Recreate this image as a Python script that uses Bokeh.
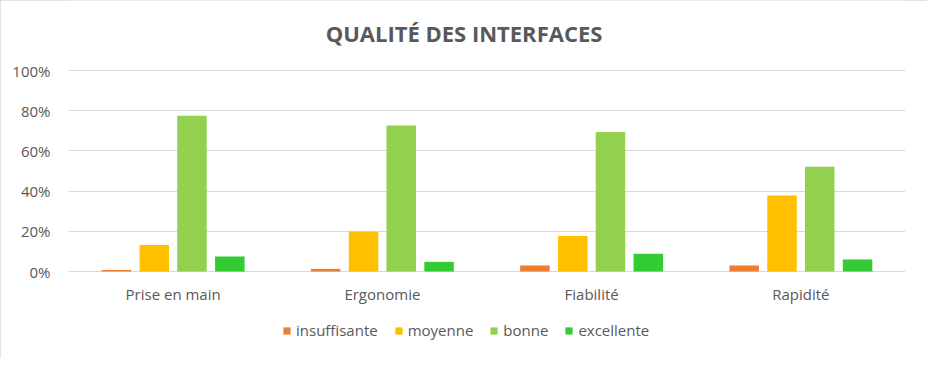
from bokeh.plotting import figure
from bokeh.models import (Range1d, FactorRange, ColumnDataSource, Legend, LegendItem, Label,
                          NumeralTickFormatter, FixedTicker, InlineStyleSheet)
from bokeh.transform import dodge
from bokeh.core.properties import value
from bokeh.embed import file_html
from bokeh.resources import INLINE

title_text = "QUALITÉ DES INTERFACES"
categories = ["Prise en main", "Ergonomie", "Fiabilité", "Rapidité"]
series_names = ["insuffisante", "moyenne", "bonne", "excellente"]
insuffisante = [0.008, 0.013, 0.030, 0.030]
moyenne = [0.132, 0.199, 0.176, 0.378]
bonne = [0.775, 0.726, 0.694, 0.521]
excellente = [0.075, 0.048, 0.088, 0.060]
colors = ["#ED7D31", "#FFC000", "#92D050", "#33CC33"]
y_ticks = [0, 0.2, 0.4, 0.6, 0.8, 1.0]

FONT = "Open Sans"
GRAY = "#595959"

W, H = 927, 358
LEFT, RIGHT = 68, 22
Y0_PX, Y1_PX = 271, 70           # screen rows (from top) of 0% and 100%
PPU = (Y0_PX - Y1_PX) / 1.0      # pixels per unit
y_top = 1 + Y1_PX / PPU
y_bot = -(H - Y0_PX) / PPU

src = ColumnDataSource(dict(cat=categories, insuffisante=insuffisante, moyenne=moyenne,
                            bonne=bonne, excellente=excellente,
                            zero=[0] * len(categories)))

p = figure(width=W, height=H, x_range=FactorRange(*categories), y_range=Range1d(y_bot, y_top),
           output_backend="svg", toolbar_location=None, x_axis_location=None,
           min_border_left=LEFT, min_border_right=RIGHT, min_border_top=0, min_border_bottom=0)
p.stylesheets = [InlineStyleSheet(css=":host { outline: 1px solid #D9D9D9; outline-offset: -1px; }")]

offsets = [-0.271, -0.09, 0.09, 0.271]
renderers = []
for name, off, col in zip(series_names, offsets, colors):
    r = p.vbar(x=dodge("cat", off, range=p.x_range), top=name, width=0.141, source=src,
               fill_color=col, line_color=None)
    renderers.append(r)

# category labels under the 0% line
p.text(x="cat", y="zero", text="cat", source=src, y_offset=22,
       text_align="center", text_baseline="middle",
       text_font=value(FONT), text_font_size="15px", text_color=GRAY)

# title
p.add_layout(Label(x=2.0, y=1 + (Y1_PX - 32) / PPU, x_offset=-23, text=title_text,
                   text_align="center", text_baseline="middle",
                   text_font=FONT, text_font_size="22px", text_font_style="bold",
                   text_color=GRAY))

p.outline_line_color = None
p.xgrid.grid_line_color = None
p.ygrid.grid_line_color = "#D9D9D9"
p.ygrid.grid_line_width = 1
p.ygrid.ticker = FixedTicker(ticks=y_ticks)

p.yaxis.ticker = FixedTicker(ticks=y_ticks)
p.yaxis.formatter = NumeralTickFormatter(format="0%")
p.yaxis.axis_line_color = None
p.yaxis.major_tick_line_color = None
p.yaxis.minor_tick_line_color = None
p.yaxis.major_label_text_font = FONT
p.yaxis.major_label_text_font_size = "15px"
p.yaxis.major_label_text_color = GRAY
p.yaxis.major_label_standoff = 12

legend = Legend(items=[LegendItem(label=n, renderers=[r]) for n, r in zip(series_names, renderers)],
                orientation="horizontal", location=(214, 18),
                glyph_width=9, glyph_height=9, label_standoff=5, spacing=16,
                label_text_font=FONT, label_text_font_size="15px", label_text_color=GRAY,
                border_line_color=None, background_fill_alpha=0, margin=0, padding=4)
p.add_layout(legend, "center")

open("out.html", "w").write(file_html(p, INLINE))
